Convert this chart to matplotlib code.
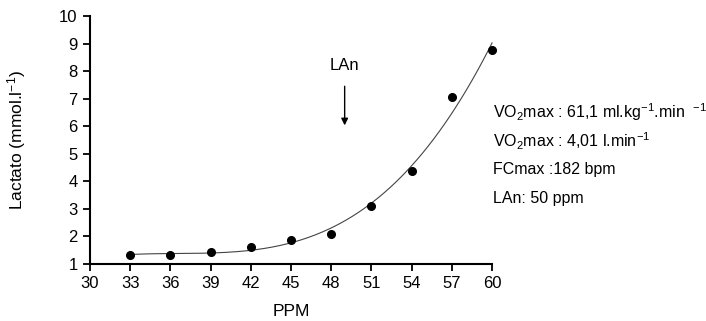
import numpy as np
from matplotlib import pyplot as plt

plt.rcParams['font.family'] = ['Liberation Sans', 'DejaVu Sans']
plt.rcParams['mathtext.fontset'] = 'custom'
plt.rcParams['mathtext.rm'] = 'Liberation Sans'
plt.rcParams['mathtext.default'] = 'regular'

# data
ppm = [33, 36, 39, 42, 45, 48, 51, 54, 57, 60]
lactato = [1.33, 1.33, 1.44, 1.62, 1.87, 2.09, 3.1, 4.37, 7.06, 8.76]
xticks = [30, 33, 36, 39, 42, 45, 48, 51, 54, 57, 60]
yticks = [1, 2, 3, 4, 5, 6, 7, 8, 9, 10]
lan_ppm = 49
info = ['VO$_2$max : 61,1 ml.kg$^{-1}$.min  $^{-1}$',
        'VO$_2$max : 4,01 l.min$^{-1}$',
        'FCmax :182 bpm',
        'LAn: 50 ppm']

fig = plt.figure(figsize=(7.06, 3.21), dpi=100)
ax = fig.add_axes([0.1275, 0.1776, 0.5695, 0.7726])

# cubic trendline
coef = np.polyfit(ppm, lactato, 3)
xs = np.linspace(min(ppm), max(ppm), 200)
ax.plot(xs, np.polyval(coef, xs), color='#444444', lw=0.8, clip_on=False)
ax.plot(ppm, lactato, 'o', color='black', markersize=5.5, clip_on=False, zorder=3)

ax.annotate('', xy=(lan_ppm, 5.93), xytext=(lan_ppm, 7.55),
            arrowprops=dict(arrowstyle='-|>', color='black', lw=1, mutation_scale=10))
ax.text(lan_ppm, 8.2, 'LAn', ha='center', va='center', fontsize=12)

ax.set_xlim(30, 60)
ax.set_ylim(1, 10)
ax.set_xticks(xticks)
ax.set_yticks(yticks)
ax.tick_params(direction='out', length=5, width=1.3, labelsize=12, color='black', pad=4)
for s in ['top', 'right']:
    ax.spines[s].set_visible(False)
for s in ['left', 'bottom']:
    ax.spines[s].set_linewidth(1.5)
ax.set_xlabel('PPM', fontsize=12.5)
ax.set_ylabel('Lactato (mmol.l$^{-1}$)', fontsize=12.5)
ax.xaxis.set_label_coords(0.5, -0.19)
ax.yaxis.set_label_coords(-0.183, 0.5)
ax.xaxis.label.set_va('center')
ax.yaxis.label.set_va('center')

for i, t in enumerate(info):
    fig.text(0.698, 1 - (112 + i * 29) / 321, t, fontsize=11.5, va='center', ha='left')

fig.savefig('out.png', dpi=100)
